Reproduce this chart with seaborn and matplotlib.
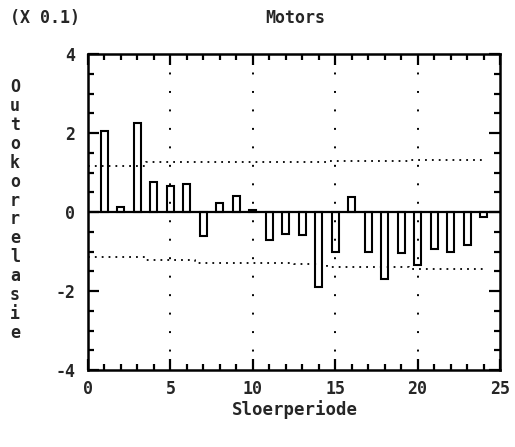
import matplotlib
matplotlib.use("Agg")
import matplotlib.pyplot as plt
from matplotlib.ticker import MultipleLocator, FixedLocator
import seaborn as sns

# Autocorrelation of the series per lag
lags = list(range(1, 25))
acf = [0.205, 0.013, 0.226, 0.076, 0.065, 0.070, -0.060, 0.023, 0.041, 0.004,
       -0.072, -0.055, -0.058, -0.189, -0.100, 0.038, -0.100, -0.169, -0.104, -0.133,
       -0.094, -0.100, -0.083, -0.012]

# Approximate 95% limits per lag (0..24)
bound_lags = list(range(0, 25))
upper = [0.116, 0.116, 0.116, 0.116, 0.126, 0.126, 0.126, 0.126, 0.126, 0.126,
         0.126, 0.126, 0.126, 0.126, 0.126, 0.128, 0.128, 0.128, 0.128, 0.128,
         0.131, 0.131, 0.131, 0.131, 0.131]
lower = [-0.114, -0.114, -0.114, -0.114, -0.121, -0.121, -0.121, -0.128, -0.128, -0.128,
         -0.128, -0.128, -0.128, -0.131, -0.131, -0.138, -0.138, -0.138, -0.138, -0.138,
         -0.144, -0.144, -0.144, -0.144, -0.144]

y_ticks = [-0.4, -0.2, 0.0, 0.2, 0.4]
y_ticklabels = ["-4", "-2", "0", "2", "4"]
x_ticks = [0, 5, 10, 15, 20, 25]
x_ticklabels = ["0", "5", "10", "15", "20", "25"]
grid_x = [5, 10, 15, 20]

sns.set_style("white")
FONT = dict(family="DejaVu Sans Mono", weight="bold")

fig = plt.figure(figsize=(5.15, 4.47), dpi=100)
ax = fig.add_axes([88 / 515, 1 - 370 / 447, 412 / 515, 316 / 447])

# dotted reference verticals
for gx in grid_x:
    ax.axvline(gx, color="black", lw=1.4, linestyle=(0, (1, 8.5)), zorder=1)

# zero line
ax.axhline(0, color="black", lw=1.6, zorder=3)

# confidence limits
sns.lineplot(x=bound_lags, y=upper, ax=ax, color="black", lw=1.3,
             linestyle=(0, (1, 2.8)), drawstyle="steps-mid", errorbar=None)
sns.lineplot(x=bound_lags, y=lower, ax=ax, color="black", lw=1.3,
             linestyle=(0, (1, 2.8)), drawstyle="steps-mid", errorbar=None)

# hollow bars
sns.barplot(x=lags, y=acf, ax=ax, native_scale=True, fill=False,
            color="black", linewidth=1.5, width=0.42, errorbar=None, zorder=4)

ax.set_xlim(0, 25)
ax.set_ylim(-0.4, 0.4)

ax.xaxis.set_major_locator(FixedLocator(x_ticks))
ax.xaxis.set_minor_locator(MultipleLocator(1))
ax.yaxis.set_major_locator(FixedLocator(y_ticks))
ax.yaxis.set_minor_locator(MultipleLocator(0.05))
ax.set_xticklabels(x_ticklabels, fontsize=12, **FONT)
ax.set_yticklabels(y_ticklabels, fontsize=12, **FONT)

ax.tick_params(which="both", direction="in", top=True, right=True,
               bottom=True, left=True, width=1.6, color="black")
ax.tick_params(which="major", length=8, pad=7)
ax.tick_params(which="minor", length=4.5)
ax.tick_params(axis="y", which="major", length=8, pad=9)

for sp in ax.spines.values():
    sp.set_visible(True)
    sp.set_linewidth(1.8)
    sp.set_color("black")

ax.set_xlabel("")
ax.set_ylabel("")

fig.text(295 / 515, 1 - 18 / 447, "Motors", ha="center", va="center",
         fontsize=12, **FONT)
fig.text(10 / 515, 1 - 18 / 447, "(X 0.1)", ha="left", va="center",
         fontsize=12, **FONT)
fig.text(295 / 515, 1 - 410 / 447, "Sloerperiode", ha="center", va="center",
         fontsize=12.5, **FONT)
fig.text(15 / 515, 1 - 210 / 447, "\n".join("Outokorrelasie"), ha="center",
         va="center", fontsize=12, linespacing=1.07, **FONT)

fig.savefig("out.png", dpi=100, facecolor="white")
